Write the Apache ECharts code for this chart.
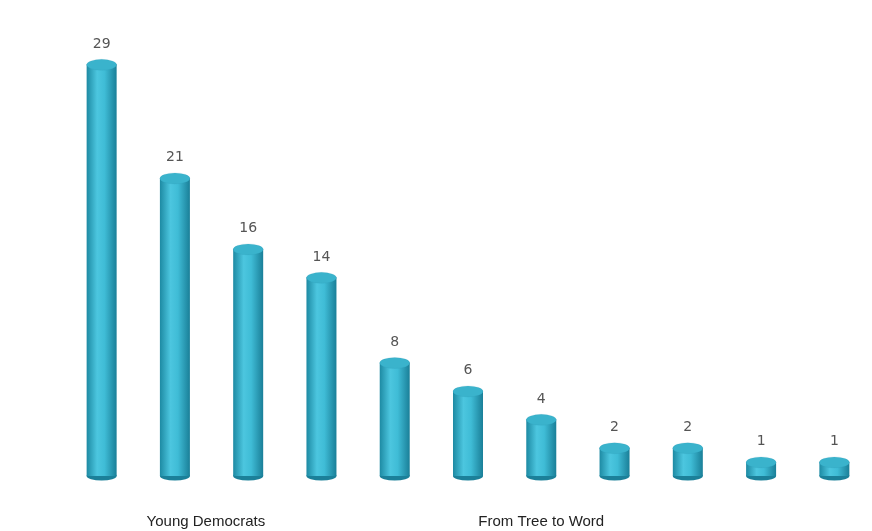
<!DOCTYPE html>
<html><head><meta charset="utf-8">
<script src="https://cdn.jsdelivr.net/npm/echarts@6/dist/echarts.min.js"></script>
<style>html,body{margin:0;padding:0;background:#fff}#c{width:872px;height:531px}</style>
</head><body><div id="c"></div>
<script>
const categories = ['', 'Young Democrats', '', '', '', '', 'From Tree to Word', '', '', '', ''];
const values = [29, 21, 16, 14, 8, 6, 4, 2, 2, 1, 1];

const chart = echarts.init(document.getElementById('c'));
const bodyColor = new echarts.graphic.LinearGradient(0, 0, 1, 0, [
  {offset: 0, color: '#1d8aa3'},
  {offset: 0.35, color: '#4cc6df'},
  {offset: 0.6, color: '#3fbcd6'},
  {offset: 1, color: '#1a7f98'}
]);
const txt = {fontFamily: 'Liberation Sans, Arial', fontSize: 15, color: '#222'};
chart.setOption({
  backgroundColor: '#ffffff',
  animation: false,
  grid: {left: 65, right: 1, top: 50, bottom: 55},
  xAxis: {
    type: 'category', data: categories,
    axisLine: {show: false}, axisTick: {show: false},
    axisLabel: {
      interval: 0, margin: 38,
      formatter: v => v === 'Young Democrats' ? '{r|' + v + '}' : v,
      ...txt,
      rich: {r: {...txt, padding: [0, 0, 0, 62]}}
    }
  },
  yAxis: {type: 'value', min: 0, max: 30, show: false, splitLine: {show: false}},
  series: [
    {
      type: 'bar', data: values, barWidth: 30, z: 2,
      itemStyle: {color: bodyColor},
      label: {show: true, position: 'top', distance: 13, color: '#555',
        fontFamily: 'DejaVu Sans, sans-serif', fontSize: 14}
    },
    {
      type: 'pictorialBar', data: values, symbol: 'circle',
      symbolSize: [30, 9], symbolOffset: [0, '50%'], symbolPosition: 'start', z: 1,
      itemStyle: {color: '#1b8099'}
    },
    {
      type: 'pictorialBar', data: values, symbol: 'circle',
      symbolSize: [30, 11], symbolOffset: [0, '-50%'], symbolPosition: 'end', z: 3,
      itemStyle: {color: '#3ab3cc', borderColor: '#1b7f97', borderWidth: 2}
    }
  ]
});
</script></body></html>
